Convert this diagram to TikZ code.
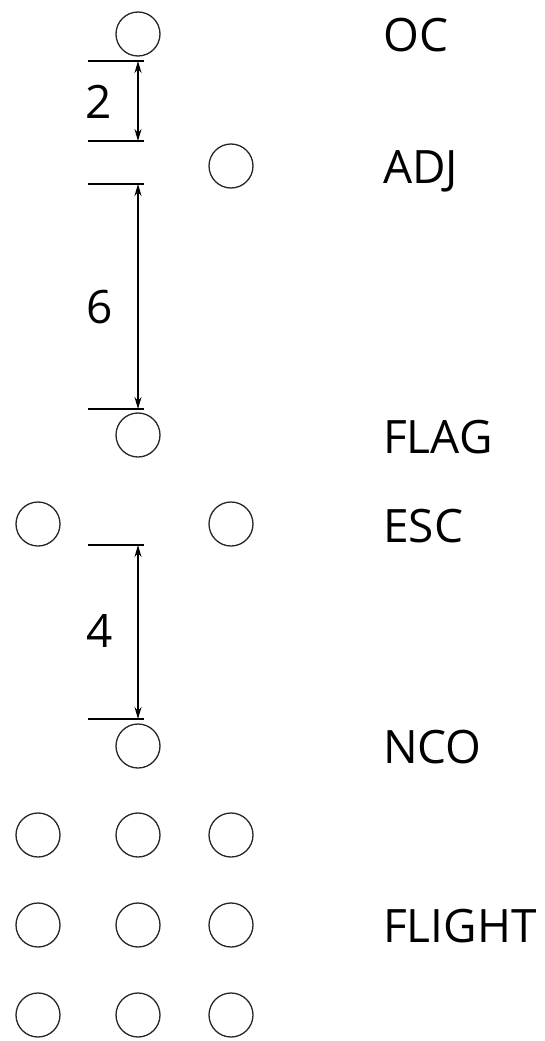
\documentclass[tikz,border=0pt]{standalone}
\usepackage{fontspec}
\setmainfont{Open Sans}
\usetikzlibrary{arrows.meta}
\begin{document}
\begin{tikzpicture}[x=1pt,y=-1pt,
    man/.style={circle,draw=black!85,line width=1.3pt,minimum size=44pt,inner sep=0pt},
    lbl/.style={anchor=base west,inner sep=0pt,font=\fontsize{46}{50}\selectfont},
    num/.style={anchor=base,inner sep=0pt,font=\fontsize{46}{50}\selectfont},
    tick/.style={line width=1.6pt},
    dim/.style={line width=1.6pt,{Stealth[length=12pt,width=7pt]}-{Stealth[length=12pt,width=7pt]}}]
    \useasboundingbox (0,0) rectangle (545,1041);

    \node[man] (oc)   at (138,34)  {}; %OC
    \node[man] (adj)  at (231,166) {}; %ADJ
    \node[man] (flag) at (138,435) {}; %FLAG
    \node[man] (escl) at (38,524)  {}; %ESC
    \node[man] (escr) at (231,524) {}; %ESC
    \node[man] (nco)  at (138,746) {}; %NCO
    % flight, 3 x 3
    \foreach \r/\y in {1/835,2/925,3/1015}
        \foreach \c/\x in {1/38,2/138,3/231}
            \node[man] (fl\r\c) at (\x,\y) {};

    \node[lbl] (toc)   at (383,52)  {OC};
    \node[lbl] (tadj)  at (383,183) {ADJ};
    \node[lbl] (tflag) at (383,453) {FLAG};
    \node[lbl] (tesc)  at (383,542) {ESC};
    \node[lbl] (tnco)  at (383,763) {NCO};
    \node[lbl] (tfl)   at (383,942) {FLIGHT};

    \coordinate (a1) at (88,61);  \coordinate (b1) at (144,61);  %2
    \coordinate (a2) at (88,141); \coordinate (b2) at (144,141);
    \coordinate (a3) at (88,184); \coordinate (b3) at (144,184); %6
    \coordinate (a4) at (88,409); \coordinate (b4) at (144,409);
    \coordinate (a5) at (88,545); \coordinate (b5) at (144,545); %4
    \coordinate (a6) at (88,719); \coordinate (b6) at (144,719);
    \foreach \i in {1,...,6} \draw[tick] (a\i) -- (b\i);

    \coordinate (d1) at (138,61);  \coordinate (e1) at (138,141);
    \coordinate (d2) at (138,184); \coordinate (e2) at (138,409);
    \coordinate (d3) at (138,545); \coordinate (e3) at (138,719);
    \foreach \i in {1,2,3} \draw[dim] (d\i) -- (e\i);

    \node[num] (n2) at (99,118) {2};
    \node[num] (n6) at (99.5,323) {6};
    \node[num] (n4) at (99.5,647) {4};

\end{tikzpicture}
\end{document}
